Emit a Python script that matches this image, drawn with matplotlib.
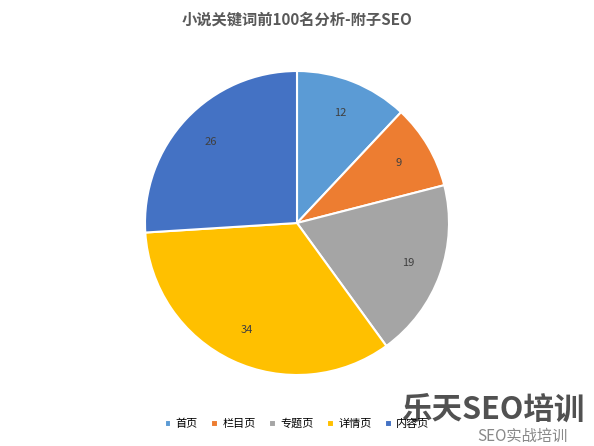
import numpy as np
import matplotlib.pyplot as plt

plt.rcParams['font.family'] = ['Noto Sans CJK SC', 'DejaVu Sans']

labels = ['首页', '栏目页', '专题页', '详情页', '内容页']
values = [12, 9, 19, 34, 26]
colors = ['#5b9bd5', '#ed7d31', '#a5a5a5', '#ffc000', '#4472c4']

fig = plt.figure(figsize=(5.94, 4.46), dpi=100)
ax = fig.add_axes([0.5 - 152 / 594, 1 - (223 + 152) / 446, 304 / 594, 304 / 446])
wedges, texts = ax.pie(values, colors=colors, startangle=90, counterclock=False,
                       wedgeprops=dict(edgecolor='white', linewidth=1.5))
for w, v in zip(wedges, values):
    ang = np.deg2rad((w.theta1 + w.theta2) / 2)
    ax.text(0.78 * np.cos(ang), 0.78 * np.sin(ang), str(v), ha='center', va='center',
            fontsize=8, color='#404040')
ax.set_xlim(-1, 1)
ax.set_ylim(-1, 1)
ax.set_aspect('equal')

fig.text(0.5, 1 - 20 / 446, '小说关键词前100名分析-附子SEO', ha='center', va='center',
         fontsize=11, fontweight='bold', color='#595959')
fig.legend(wedges, labels, loc='center', bbox_to_anchor=(0.5, 1 - 424 / 446), ncol=5,
           frameon=False, fontsize=8, handlelength=0.6, handleheight=0.6,
           columnspacing=1.2, handletextpad=0.4)
fig.text(0.83, 1 - 410 / 446, '乐天SEO培训', ha='center', va='center', fontsize=22,
         fontweight='bold', color='#333333', alpha=0.85)
fig.text(0.88, 1 - 436 / 446, 'SEO实战培训', ha='center', va='center', fontsize=11,
         color='#888888')
fig.savefig('out.png', dpi=100)
